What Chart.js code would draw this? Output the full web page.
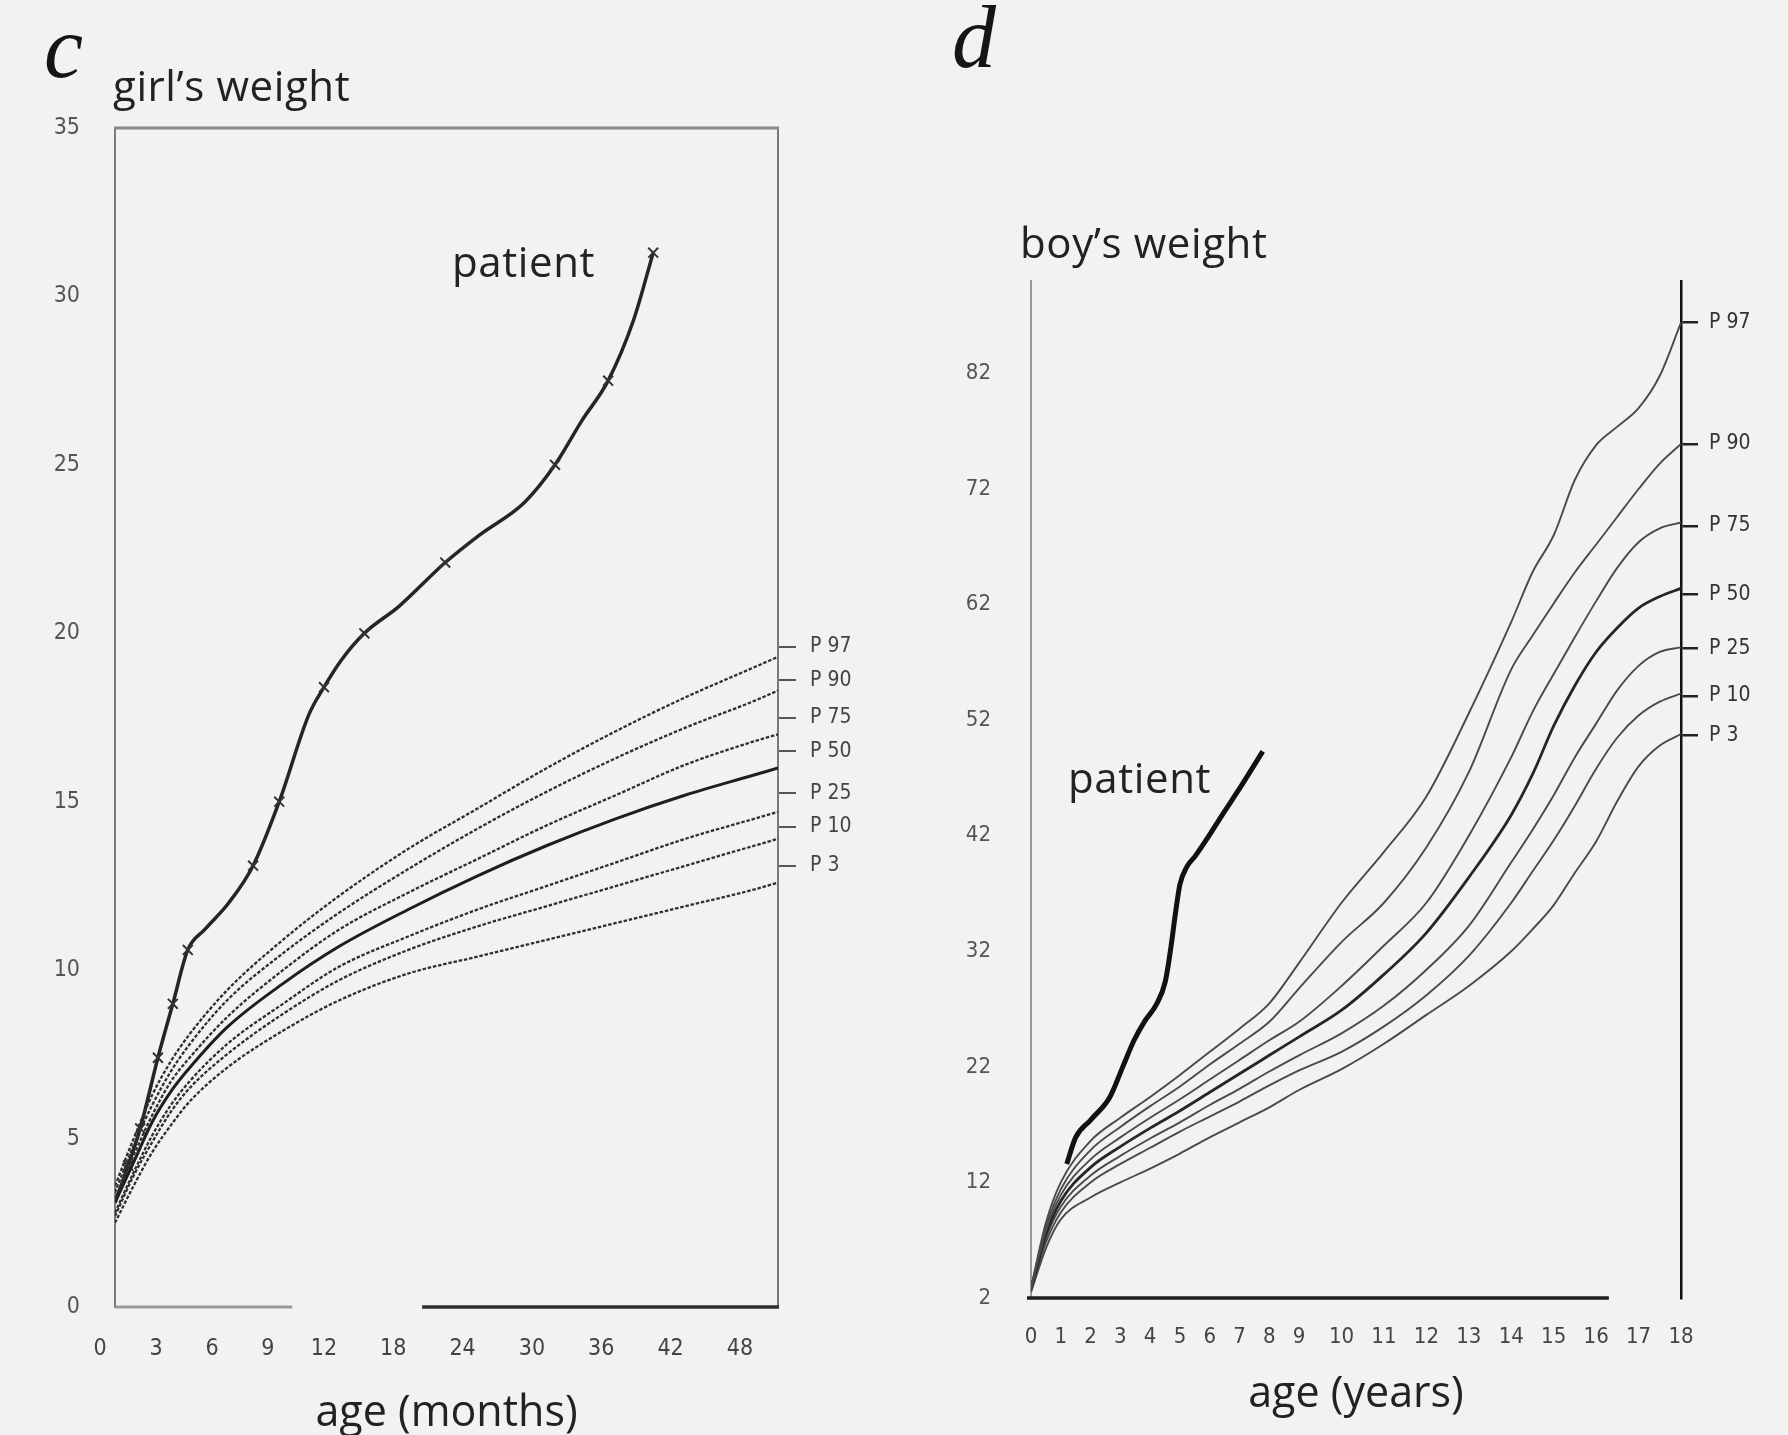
<!DOCTYPE html>
<html>
<head>
<meta charset="utf-8">
<script src="https://cdn.jsdelivr.net/npm/chart.js@4.4.1/dist/chart.umd.min.js"></script>
<style>
    html, body { margin: 0; padding: 0; background: #f2f2f2; }
    body { width: 1788px; height: 1435px; position: relative; overflow: hidden; }
    .panel { position: absolute; top: 0; height: 1435px; }
    #girlBox { left: 0; width: 868px; }
    #boyBox { left: 894px; width: 894px; }
    .txt { position: absolute; font-family: "Open Sans", "Noto Sans", sans-serif; font-size: 42px; letter-spacing: 0.6px; line-height: 1; color: #222; white-space: nowrap; }
    .letter { position: absolute; font-family: "Liberation Serif", "DejaVu Serif", serif; font-style: italic; font-size: 88px; line-height: 1; color: #151515; }
</style>
</head>
<body>
<div class="panel" id="girlBox"><canvas id="girlChart"></canvas></div>
<div class="panel" id="boyBox"><canvas id="boyChart"></canvas></div>

<div class="letter" style="left:44px; top:4px;">c</div>
<div class="letter" style="left:952px; top:-6px;">d</div>
<div class="txt" style="left:113px; top:64px;">girl’s weight</div>
<div class="txt" style="left:1020px; top:221px;">boy’s weight</div>
<div class="txt" style="left:452px; top:240px;">patient</div>
<div class="txt" style="left:1068px; top:756px;">patient</div>

<script>
// ---- c: girl's weight, age in months ----
const girlAgeTicks = [0, 3, 6, 9, 12, 18, 24, 30, 36, 42, 48];
const girlWeightTicks = [0, 5, 10, 15, 20, 25, 30, 35];
const girlMonths = [0, 1, 2, 3, 4, 6, 9, 12, 18, 24, 30, 36, 42, 48, 50];
const girlP97 = [3.6, 5.0, 6.3, 7.3, 8.1, 9.4, 10.9, 12.2, 13.6, 14.8, 16.0, 17.1, 18.1, 19.0, 19.3];
const girlP90 = [3.4, 4.8, 6.0, 7.0, 7.8, 9.1, 10.5, 11.7, 13.0, 14.2, 15.3, 16.3, 17.2, 18.0, 18.3];
const girlP75 = [3.2, 4.5, 5.7, 6.7, 7.4, 8.6, 10.0, 11.2, 12.3, 13.3, 14.3, 15.2, 16.1, 16.8, 17.0];
const girlP50 = [3.1, 4.3, 5.5, 6.4, 7.1, 8.3, 9.6, 10.7, 11.8, 12.8, 13.7, 14.5, 15.2, 15.8, 16.0];
const girlP25 = [2.8, 4.0, 5.1, 6.0, 6.7, 7.8, 9.0, 10.1, 11.0, 11.8, 12.5, 13.2, 13.9, 14.5, 14.7];
const girlP10 = [2.7, 3.9, 4.9, 5.8, 6.5, 7.5, 8.7, 9.7, 10.6, 11.3, 11.9, 12.5, 13.1, 13.7, 13.9];
const girlP3 = [2.5, 3.6, 4.6, 5.4, 6.1, 7.1, 8.2, 9.1, 9.9, 10.4, 10.9, 11.4, 11.9, 12.4, 12.6];
const girlPatientMonths = [0, 0.7, 1.35, 2.3, 3.1, 3.9, 4.8, 6.1, 7.4, 8.8, 10.4, 11.2, 12.2, 14.2, 17.2, 21.2, 24.1, 28.1, 30.7, 33.0, 35.3, 37.5, 39.2];
const girlPatientKg = [3.1, 4.2, 5.3, 7.4, 9.0, 10.6, 11.2, 12.0, 13.1, 15.0, 17.6, 18.4, 19.2, 20.0, 20.8, 22.1, 22.9, 23.9, 25.0, 26.3, 27.5, 29.3, 31.3];
const girlPatientMarked = [0, 1, 1, 1, 1, 1, 0, 0, 1, 1, 0, 1, 0, 1, 0, 1, 0, 0, 1, 0, 1, 0, 1];
const girlPctLabelKg = [19.6, 18.6, 17.5, 16.5, 15.25, 14.25, 13.1];
const girlAxisGap = [9.5, 19.2];

// ---- d: boy's weight, age in years ----
const boyAgeTicks = [0, 1, 2, 3, 4, 5, 6, 7, 8, 9, 10, 11, 12, 13, 14, 15, 16, 17, 18];
const boyWeightTicks = [2, 12, 22, 32, 42, 52, 62, 72, 82];
const boyAges = [0, 0.5, 1, 2, 3, 4, 5, 6, 7, 8, 9, 10, 11, 12, 13, 14, 14.5, 15, 15.5, 16, 16.5, 17, 17.5, 18];
const boyP97 = [2.9, 8.5, 12.0, 15.6, 17.6, 19.4, 21.3, 23.3, 25.3, 27.5, 31.0, 36.2, 40.6, 45.4, 52.6, 60.5, 64.8, 68.0, 72.8, 75.8, 77.4, 79.0, 81.8, 86.4];
const boyP90 = [2.9, 8.1, 11.4, 14.8, 16.8, 18.6, 20.3, 22.2, 24.0, 25.9, 28.8, 32.8, 36.2, 41.0, 47.5, 56.4, 59.3, 62.1, 64.8, 67.2, 69.6, 72.0, 74.2, 75.9];
const boyP75 = [2.8, 7.8, 10.9, 14.0, 15.9, 17.6, 19.2, 20.9, 22.6, 24.3, 25.9, 29.0, 32.5, 36.2, 42.0, 48.8, 52.7, 56.0, 59.2, 62.3, 65.2, 67.4, 68.6, 69.1];
const boyP50 = [2.8, 7.5, 10.4, 13.3, 15.1, 16.7, 18.2, 19.8, 21.4, 23.0, 24.6, 26.9, 30.0, 33.6, 38.4, 43.8, 47.3, 51.5, 55.0, 57.9, 60.0, 61.7, 62.7, 63.4];
const boyP25 = [2.7, 7.2, 9.9, 12.6, 14.3, 15.8, 17.2, 18.7, 20.1, 21.6, 23.0, 24.9, 27.3, 30.4, 34.2, 39.7, 42.5, 45.5, 48.8, 51.7, 54.6, 56.7, 57.9, 58.3];
const boyP10 = [2.6, 6.8, 9.4, 12.0, 13.6, 15.0, 16.4, 17.7, 19.0, 20.4, 21.7, 23.3, 25.5, 28.2, 31.6, 36.2, 38.9, 41.6, 44.6, 47.8, 50.5, 52.4, 53.6, 54.3];
const boyP3 = [2.5, 6.3, 8.8, 10.7, 12.0, 13.2, 14.5, 15.9, 17.2, 18.5, 20.0, 21.8, 24.0, 26.5, 29.0, 32.0, 33.9, 36.0, 38.8, 41.5, 45.0, 48.0, 49.8, 50.8];
const boyPatientAges = [1.2, 1.5, 2.0, 2.65, 3.08, 3.46, 3.83, 4.21, 4.51, 4.70, 4.85, 5.0, 5.23, 5.53, 5.90, 6.47, 7.03, 7.78];
const boyPatientKg = [13.6, 15.9, 17.4, 19.4, 22.0, 24.3, 26.0, 27.4, 29.4, 32.4, 35.3, 37.8, 39.3, 40.3, 41.7, 44.0, 46.2, 49.3];
const boyPctLabelKg = [86.4, 75.9, 68.8, 62.9, 58.2, 54.1, 50.7];
const boyAxisEnd = 16.3;

const pctNames = ['P 97', 'P 90', 'P 75', 'P 50', 'P 25', 'P 10', 'P 3'];

// the original charts stretch the first year (c) and squeeze the first nine years (d)
const GIRL_FIRST_YEAR_STRETCH = 1.615;
const BOY_EARLY_SQUEEZE = 0.702;

function girlWarp(month) {
    return month <= 12 ? month * GIRL_FIRST_YEAR_STRETCH : 12 * GIRL_FIRST_YEAR_STRETCH + (month - 12);
}

function boyWarp(age) {
    return age <= 9 ? age * BOY_EARLY_SQUEEZE : 9 * BOY_EARLY_SQUEEZE + (age - 9);
}

function toPoints(xs, ys, warp) {
    return xs.map((x, i) => ({ x: warp(x), y: ys[i] }));
}

const tickFamily = '"Liberation Sans Narrow", "DejaVu Sans Condensed", "Liberation Sans", sans-serif';
const titleFamily = '"Open Sans", "Noto Sans", sans-serif';
const tickColor = '#444';

document.addEventListener('DOMContentLoaded', () => {
    createGirlChart(document.getElementById('girlChart'));
    createBoyChart(document.getElementById('boyChart'));
});

function strokeLine(ctx, x1, y1, x2, y2) {
    ctx.beginPath();
    ctx.moveTo(x1, y1);
    ctx.lineTo(x2, y2);
    ctx.stroke();
}

function createGirlChart(canvasElement) {
    const pct = (values, median) => ({
        data: toPoints(girlMonths, values, girlWarp),
        borderColor: median ? '#1e1e1e' : '#2f2f2f',
        borderWidth: median ? 3 : 2.3,
        borderDash: median ? [] : [3.5, 1.8],
        pointRadius: 0,
        cubicInterpolationMode: 'monotone',
        xAxisID: 'x',
        yAxisID: 'y'
    });

    const girlFrame = {
        id: 'girlFrame',
        beforeDatasetsDraw(chart) {
            const { ctx, chartArea: a } = chart;
            const x = chart.scales.x;
            ctx.save();
            ctx.strokeStyle = '#8a8a8a';
            ctx.lineWidth = 3;
            strokeLine(ctx, a.left - 1, a.top, a.right + 1, a.top);
            ctx.strokeStyle = '#999';
            ctx.lineWidth = 3;
            strokeLine(ctx, a.left, a.bottom, x.getPixelForValue(girlWarp(girlAxisGap[0])), a.bottom);
            ctx.strokeStyle = '#2e2e2e';
            ctx.lineWidth = 3.5;
            strokeLine(ctx, x.getPixelForValue(girlWarp(girlAxisGap[1])), a.bottom, a.right + 1, a.bottom);
            ctx.restore();
        }
    };

    new Chart(canvasElement.getContext('2d'), {
        type: 'line',
        data: {
            datasets: [
                pct(girlP97), pct(girlP90), pct(girlP75), pct(girlP50, true),
                pct(girlP25), pct(girlP10), pct(girlP3),
                {
                    label: 'patient',
                    data: toPoints(girlPatientMonths, girlPatientKg, girlWarp),
                    borderColor: '#252525',
                    borderWidth: 3.5,
                    pointStyle: 'crossRot',
                    pointRadius: ctx => (girlPatientMarked[ctx.dataIndex] ? 7 : 0),
                    pointBorderColor: '#333',
                    pointBorderWidth: 2,
                    cubicInterpolationMode: 'monotone',
                    xAxisID: 'x',
                    yAxisID: 'y'
                }
            ]
        },
        options: {
            responsive: true,
            maintainAspectRatio: false,
            animation: false,
            layout: { padding: { top: 128, left: 0, right: 0, bottom: 0 } },
            plugins: { legend: { display: false }, tooltip: { enabled: false } },
            scales: {
                x: {
                    type: 'linear',
                    position: 'bottom',
                    min: 0,
                    max: girlWarp(50),
                    afterBuildTicks: s => { s.ticks = girlAgeTicks.map(m => ({ value: girlWarp(m) })); },
                    afterFit: s => { s.height = 128; },
                    grid: { display: false, drawTicks: false },
                    border: { display: false },
                    ticks: {
                        callback: (v, i) => girlAgeTicks[i],
                        autoSkip: false,
                        maxRotation: 0,
                        labelOffset: -15,
                        padding: 28,
                        color: tickColor,
                        font: { family: tickFamily, size: 23 }
                    },
                    title: {
                        display: true,
                        text: 'age (months)',
                        color: '#222',
                        font: { family: titleFamily, size: 43, lineHeight: 1 },
                        padding: { top: 0, bottom: 0 }
                    }
                },
                y: {
                    type: 'linear',
                    position: 'left',
                    min: 0,
                    max: 35,
                    afterBuildTicks: s => { s.ticks = girlWeightTicks.map(v => ({ value: v })); },
                    afterFit: s => { s.width = 115; },
                    grid: { display: false, drawTicks: false },
                    border: { display: true, color: '#7a7a7a', width: 2 },
                    ticks: { autoSkip: false, padding: 35, color: '#555', font: { family: tickFamily, size: 23 } }
                },
                pct: {
                    type: 'linear',
                    axis: 'y',
                    position: 'right',
                    min: 0,
                    max: 35,
                    afterBuildTicks: s => { s.ticks = girlPctLabelKg.map(v => ({ value: v })); },
                    afterFit: s => { s.width = 90; },
                    grid: { display: true, drawOnChartArea: false, drawTicks: true, tickLength: 18, color: '#555', lineWidth: 2 },
                    border: { display: true, color: '#7a7a7a', width: 2 },
                    ticks: {
                        callback: (v, i) => pctNames[i],
                        autoSkip: false,
                        padding: 14,
                        color: '#444',
                        font: { family: tickFamily, size: 21 }
                    }
                }
            }
        },
        plugins: [girlFrame]
    });
}

function createBoyChart(canvasElement) {
    const pct = (values, median) => ({
        data: toPoints(boyAges, values, boyWarp),
        borderColor: median ? '#262626' : '#4a4a4a',
        borderWidth: median ? 2.8 : 1.9,
        pointRadius: 0,
        cubicInterpolationMode: 'monotone',
        xAxisID: 'x',
        yAxisID: 'y'
    });

    const boyFrame = {
        id: 'boyFrame',
        beforeDatasetsDraw(chart) {
            const { ctx, chartArea: a } = chart;
            const x = chart.scales.x;
            ctx.save();
            ctx.strokeStyle = '#1e1e1e';
            ctx.lineWidth = 3.5;
            strokeLine(ctx, a.left - 4, a.bottom, x.getPixelForValue(boyWarp(boyAxisEnd)), a.bottom);
            ctx.restore();
        }
    };

    new Chart(canvasElement.getContext('2d'), {
        type: 'line',
        data: {
            datasets: [
                pct(boyP97), pct(boyP90), pct(boyP75), pct(boyP50, true),
                pct(boyP25), pct(boyP10), pct(boyP3),
                {
                    label: 'patient',
                    data: toPoints(boyPatientAges, boyPatientKg, boyWarp),
                    borderColor: '#111',
                    borderWidth: 5,
                    pointRadius: 0,
                    cubicInterpolationMode: 'monotone',
                    xAxisID: 'x',
                    yAxisID: 'y'
                }
            ]
        },
        options: {
            responsive: true,
            maintainAspectRatio: false,
            animation: false,
            layout: { padding: { top: 281, left: 0, right: 0, bottom: 0 } },
            plugins: { legend: { display: false }, tooltip: { enabled: false } },
            scales: {
                x: {
                    type: 'linear',
                    position: 'bottom',
                    min: 0,
                    max: boyWarp(18),
                    afterBuildTicks: s => { s.ticks = boyAgeTicks.map(a => ({ value: boyWarp(a) })); },
                    afterFit: s => { s.height = 137; },
                    grid: { display: false, drawTicks: false },
                    border: { display: false },
                    ticks: {
                        callback: (v, i) => boyAgeTicks[i],
                        autoSkip: false,
                        maxRotation: 0,
                        padding: 26,
                        color: tickColor,
                        font: { family: tickFamily, size: 22 }
                    },
                    title: {
                        display: true,
                        text: 'age (years)',
                        color: '#222',
                        font: { family: titleFamily, size: 43, lineHeight: 1 },
                        padding: { top: 0, bottom: 19 }
                    }
                },
                y: {
                    type: 'linear',
                    position: 'left',
                    min: 2,
                    max: 90,
                    afterBuildTicks: s => { s.ticks = boyWeightTicks.map(v => ({ value: v })); },
                    afterFit: s => { s.width = 137; },
                    grid: { display: false, drawTicks: false },
                    border: { display: true, color: '#999', width: 2 },
                    ticks: { autoSkip: false, padding: 40, color: '#555', font: { family: tickFamily, size: 22 } }
                },
                pct: {
                    type: 'linear',
                    axis: 'y',
                    position: 'right',
                    min: 2,
                    max: 90,
                    afterBuildTicks: s => { s.ticks = boyPctLabelKg.map(v => ({ value: v })); },
                    afterFit: s => { s.width = 107; },
                    grid: { display: true, drawOnChartArea: false, drawTicks: true, tickLength: 17, color: '#222', lineWidth: 2.5 },
                    border: { display: true, color: '#111', width: 2.5 },
                    ticks: {
                        callback: (v, i) => pctNames[i],
                        autoSkip: false,
                        padding: 11,
                        color: '#333',
                        font: { family: tickFamily, size: 21 }
                    }
                }
            }
        },
        plugins: [boyFrame]
    });
}
</script>
</body>
</html>
